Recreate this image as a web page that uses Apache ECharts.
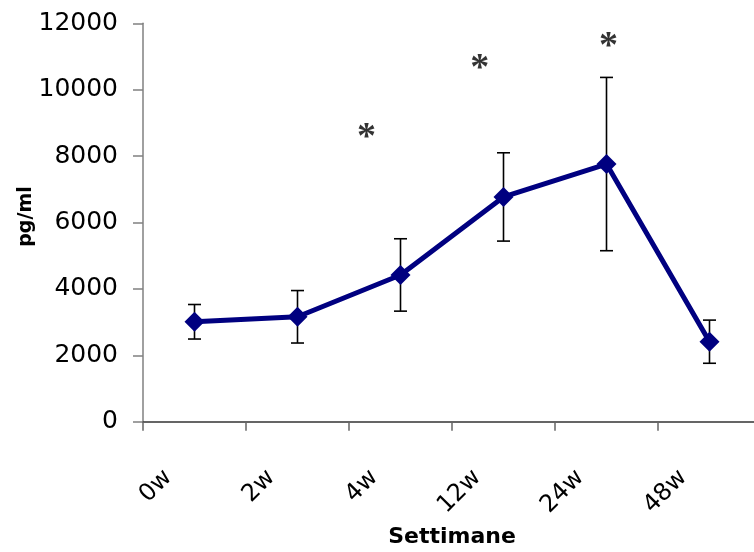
<!DOCTYPE html>
<html>
<head>
<meta charset="utf-8">
<script src="https://cdn.jsdelivr.net/npm/echarts@6/dist/echarts.min.js"></script>
<style>
html,body{margin:0;padding:0;background:#fff;}
#chart{width:754px;height:552px;}
</style>
</head>
<body>
<div id="chart"></div>
<script>
var categories = ['0w', '2w', '4w', '12w', '24w', '48w'];
var means = [3010, 3160, 4420, 6770, 7760, 2410];
var errors = [520, 790, 1090, 1330, 2610, 650];
var yTicks = [0, 2000, 4000, 6000, 8000, 10000, 12000];
var starX = [2.17, 3.27, 4.52];
var starY = [8735, 10795, 11476];
var starText = ['*', '*', '*'];

var chart = echarts.init(document.getElementById('chart'), null, {renderer: 'canvas'});

var errData = categories.map(function (c, i) { return [i, means[i] - errors[i], means[i] + errors[i]]; });
var starData = starX.map(function (x, i) { return {value: [x, starY[i]], label: {formatter: starText[i]}}; });

var option = {
  animation: false,
  backgroundColor: '#ffffff',
  grid: {left: 143, top: 23.3, bottom: 130.3, right: -7, containLabel: false, outerBoundsMode: 'none'},
  xAxis: [{
    type: 'category',
    data: categories,
    boundaryGap: true,
    name: 'Settimane',
    nameLocation: 'middle',
    nameGap: 105,
    nameMoveOverlap: false,
    nameTextStyle: {fontFamily: 'DejaVu Sans', fontWeight: 'bold', fontSize: 22, color: '#000'},
    axisLine: {lineStyle: {color: '#333', width: 1.5}},
    axisTick: {show: true, length: 9, lineStyle: {color: '#666', width: 1.5}},
    axisLabel: {
      rotate: 45, margin: 26, interval: 0,
      fontFamily: 'DejaVu Sans', fontSize: 24, color: '#000',
      formatter: function (v) { return '{a|' + v + '}'; },
      rich: {a: {fontFamily: 'DejaVu Sans', fontSize: 24, color: '#000', padding: [0, 37, 0, 0]}}
    },
    splitLine: {show: false}
  }, {
    type: 'value', min: 0, max: 6, show: false
  }],
  yAxis: {
    type: 'value',
    min: yTicks[0], max: yTicks[yTicks.length - 1], interval: 2000,
    name: 'pg/ml',
    nameLocation: 'middle',
    nameGap: 107,
    nameRotate: 90,
    nameMoveOverlap: false,
    nameTextStyle: {fontFamily: 'DejaVu Sans', fontWeight: 'bold', fontSize: 19, color: '#000', padding: [0, 0, 0, 12]},
    axisLine: {show: true, lineStyle: {color: '#808080', width: 1.5}},
    axisTick: {show: true, length: 10, lineStyle: {color: '#808080', width: 1.5}},
    axisLabel: {margin: 25, fontFamily: 'DejaVu Sans', fontSize: 25, color: '#000',
      formatter: function (v) { return String(v); }},
    splitLine: {show: false}
  },
  series: [{
    type: 'custom',
    xAxisIndex: 0,
    z: 1,
    data: errData,
    renderItem: function (params, api) {
      var x = api.value(0);
      var lo = api.coord([x, api.value(1)]);
      var hi = api.coord([x, api.value(2)]);
      var hw = 6.5;
      var st = {stroke: '#000', lineWidth: 1.6};
      return {type: 'group', children: [
        {type: 'line', shape: {x1: lo[0], y1: lo[1], x2: hi[0], y2: hi[1]}, style: st},
        {type: 'line', shape: {x1: lo[0] - hw, y1: lo[1], x2: lo[0] + hw, y2: lo[1]}, style: st},
        {type: 'line', shape: {x1: hi[0] - hw, y1: hi[1], x2: hi[0] + hw, y2: hi[1]}, style: st}
      ]};
    }
  }, {
    type: 'line',
    xAxisIndex: 0,
    z: 3,
    data: means,
    symbol: 'diamond',
    symbolSize: 20,
    showAllSymbol: true,
    lineStyle: {color: '#000080', width: 5},
    itemStyle: {color: '#000080'}
  }, {
    type: 'scatter',
    xAxisIndex: 1,
    z: 4,
    data: starData,
    symbol: 'circle',
    symbolSize: 2,
    itemStyle: {color: 'rgba(0,0,0,0)'},
    label: {show: true, position: 'inside', fontFamily: 'Liberation Serif', fontWeight: 'bold', fontSize: 38, color: '#000', offset: [0, 6]}
  }]
};
chart.setOption(option);
</script>
</body>
</html>
